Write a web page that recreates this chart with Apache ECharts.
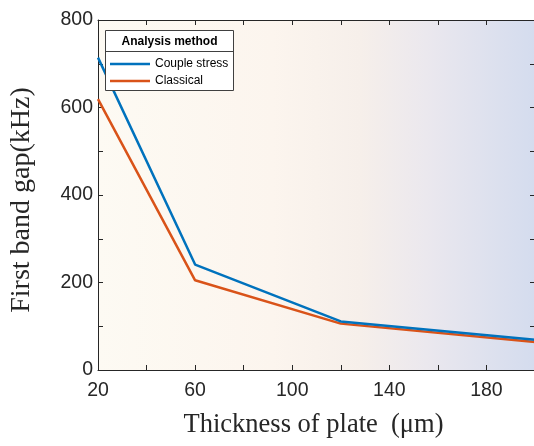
<!DOCTYPE html>
<html><head><meta charset="utf-8">
<script src="https://cdn.jsdelivr.net/npm/echarts@6/dist/echarts.min.js"></script>
<style>html,body{margin:0;padding:0;width:534px;height:446px;overflow:hidden;background:#fff}#c{width:538px;height:446px}</style>
</head><body><div id="c"></div>
<script>
const thickness = [20, 60, 120, 200];
const coupleStress = [714, 241, 111, 69];
const classical = [619, 205, 106, 64];
const seriesNames = ['Couple stress', 'Classical'];
const legendTitle = 'Analysis method';
const xTitle = 'Thickness of plate  (\u03bcm)';
const yTitle = 'First band gap(kHz)';

const chart = echarts.init(document.getElementById('c'), null, {renderer: 'canvas'});
const axisColor = '#262626';
const tickFont = {fontFamily: 'Liberation Sans, Arial, sans-serif', fontSize: 19.5, color: '#262626'};
chart.setOption({
  animation: false,
  grid: {left: 96, top: 20, right: 0, bottom: 76, show: true, borderWidth: 0,
    backgroundColor: new echarts.graphic.LinearGradient(0, 0, 1, 0, [
      {offset: 0, color: '#fdfaf3'},
      {offset: 0.4, color: '#fcf5ee'},
      {offset: 0.6, color: '#f6efea'},
      {offset: 0.75, color: '#ebe8ee'},
      {offset: 1, color: '#d4dcee'}
    ])},
  xAxis: [{
    type: 'value', min: 20, max: 200, interval: 20, position: 'bottom',
    name: xTitle, nameLocation: 'middle', nameGap: 42,
    nameTextStyle: {fontFamily: 'Liberation Serif, Times New Roman, serif', fontSize: 26.5, color: '#262626', padding: [0, 6, 0, 0]},
    axisLine: {show: true, lineStyle: {color: axisColor, width: 1}},
    axisTick: {show: true, inside: true, length: 5, lineStyle: {color: axisColor}},
    axisLabel: Object.assign({margin: 11, formatter: v => ((v - 20) % 40 === 0 ? String(v) : '')}, tickFont),
    splitLine: {show: false}
  }, {
    type: 'value', min: 20, max: 200, interval: 20, position: 'top',
    axisLine: {show: true, onZero: false, lineStyle: {color: axisColor, width: 1}},
    axisTick: {show: true, inside: true, length: 5, lineStyle: {color: axisColor}},
    axisLabel: {show: false}, splitLine: {show: false}
  }],
  yAxis: [{
    type: 'value', min: 0, max: 800, interval: 100, position: 'left',
    name: yTitle, nameLocation: 'middle', nameGap: 62,
    nameTextStyle: {fontFamily: 'Liberation Serif, Times New Roman, serif', fontSize: 28, color: '#262626', padding: [0, 10, 0, 0]},
    axisLine: {show: true, lineStyle: {color: axisColor, width: 1}},
    axisTick: {show: true, inside: true, length: 5, lineStyle: {color: axisColor}},
    axisLabel: Object.assign({margin: 5, formatter: v => (v % 200 === 0 ? String(v) : '')}, tickFont),
    splitLine: {show: false}
  }, {
    type: 'value', min: 0, max: 800, interval: 100, position: 'right',
    axisLine: {show: true, onZero: false, lineStyle: {color: axisColor, width: 1}},
    axisTick: {show: true, inside: true, length: 5, lineStyle: {color: axisColor}},
    axisLabel: {show: false}, splitLine: {show: false}
  }],
  legend: {
    orient: 'vertical', left: 105, top: 53, itemWidth: 40, itemHeight: 2.5, itemGap: 5, icon: 'rect',
    textStyle: {fontFamily: 'Liberation Sans, Arial, sans-serif', fontSize: 12, color: '#000'},
    data: seriesNames, z: 12
  },
  graphic: [
    {type: 'rect', z: 10, shape: {x: 105.5, y: 30.5, width: 128, height: 60}, style: {fill: '#fff', stroke: '#404040', lineWidth: 1}},
    {type: 'line', z: 11, shape: {x1: 105.5, y1: 51.5, x2: 233.5, y2: 51.5}, style: {stroke: '#404040', lineWidth: 1}},
    {type: 'text', z: 11, x: 169.5, y: 41.5, style: {text: legendTitle, fontFamily: 'Liberation Sans, Arial, sans-serif', fontSize: 12, fontWeight: 'bold', fill: '#000', align: 'center', verticalAlign: 'middle'}}
  ],
  series: [
    {name: seriesNames[0], type: 'line', data: thickness.map((t, i) => [t, coupleStress[i]]), showSymbol: false, symbol: 'none', lineStyle: {color: '#0072BD', width: 2.5}, itemStyle: {color: '#0072BD'}, z: 3},
    {name: seriesNames[1], type: 'line', data: thickness.map((t, i) => [t, classical[i]]), showSymbol: false, symbol: 'none', lineStyle: {color: '#D95319', width: 2.5}, itemStyle: {color: '#D95319'}, z: 2}
  ]
});
</script></body></html>
